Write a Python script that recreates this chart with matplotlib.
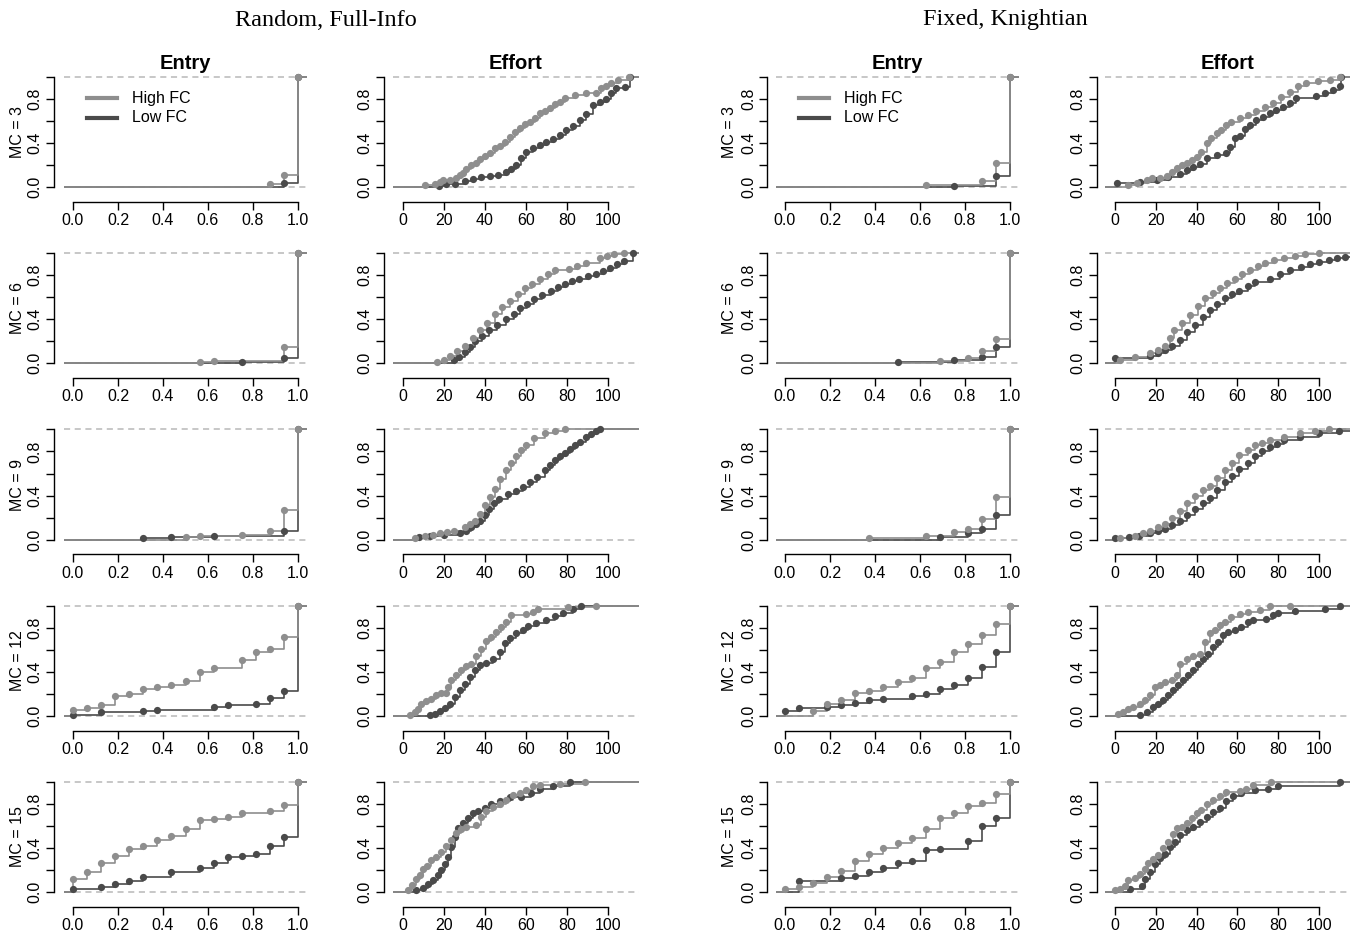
import numpy as np
import matplotlib.pyplot as plt

plt.rcParams['font.family'] = ['Liberation Sans', 'DejaVu Sans']

# ---------------- labels ----------------
mc_levels = [3, 6, 9, 12, 15]
group_titles = ['Random, Full-Info', 'Fixed, Knightian']
column_titles = ['Entry', 'Effort']
series_labels = ['High FC', 'Low FC']
entry_ticks = [0.0, 0.2, 0.4, 0.6, 0.8, 1.0]
effort_ticks = [0, 20, 40, 60, 80, 100]
y_ticks = [0.0, 0.2, 0.4, 0.6, 0.8, 1.0]
y_ticklabels = ['0.0', '', '0.4', '', '0.8', '']

# ---------------- data: ECDF knots (x, F) ----------------
# Random, Full-Info -- entry
rf_entry_3_high = [(0.875, 0.03), (0.9375, 0.11), (1.0, 1.0)]
rf_entry_3_low = [(0.9375, 0.04), (1.0, 1.0)]
rf_entry_6_high = [(0.5625, 0.01), (0.625, 0.02), (0.9375, 0.15), (1.0, 1.0)]
rf_entry_6_low = [(0.75, 0.01), (0.9375, 0.05), (1.0, 1.0)]
rf_entry_9_high = [(0.5, 0.02), (0.5625, 0.03), (0.75, 0.04), (0.875, 0.08),
                   (0.9375, 0.27), (1.0, 1.0)]
rf_entry_9_low = [(0.3125, 0.01), (0.4375, 0.02), (0.625, 0.03), (0.9375, 0.08), (1.0, 1.0)]
rf_entry_12_high = [(0.0, 0.05), (0.0625, 0.07), (0.125, 0.10), (0.1875, 0.18), (0.25, 0.20),
                    (0.3125, 0.24), (0.375, 0.26), (0.4375, 0.28), (0.5, 0.32), (0.5625, 0.40),
                    (0.625, 0.43), (0.75, 0.51), (0.8125, 0.58), (0.875, 0.61), (0.9375, 0.72),
                    (1.0, 1.0)]
rf_entry_12_low = [(0.0, 0.01), (0.125, 0.03), (0.3125, 0.04), (0.375, 0.055), (0.625, 0.08),
                   (0.6875, 0.095), (0.8125, 0.11), (0.875, 0.165), (0.9375, 0.225), (1.0, 1.0)]
rf_entry_15_high = [(0.0, 0.115), (0.0625, 0.18), (0.125, 0.265), (0.1875, 0.33), (0.25, 0.39),
                    (0.3125, 0.415), (0.375, 0.47), (0.4375, 0.51), (0.5, 0.57), (0.5625, 0.655),
                    (0.625, 0.665), (0.6875, 0.68), (0.75, 0.72), (0.875, 0.74), (0.9375, 0.795),
                    (1.0, 1.0)]
rf_entry_15_low = [(0.0, 0.03), (0.125, 0.045), (0.1875, 0.07), (0.25, 0.10), (0.3125, 0.135),
                   (0.4375, 0.18), (0.5625, 0.22), (0.625, 0.265), (0.6875, 0.32), (0.75, 0.33),
                   (0.8125, 0.35), (0.875, 0.42), (0.9375, 0.50), (1.0, 1.0)]

# Random, Full-Info -- effort
rf_effort_3_high = [(10.6, 0.015), (15.4, 0.03), (17.9, 0.045), (19.5, 0.06), (22.8, 0.067),
                    (26, 0.085), (27.6, 0.107), (29.3, 0.13), (30.9, 0.16), (33.3, 0.2),
                    (35.8, 0.22), (37.4, 0.25), (39.8, 0.28), (42.3, 0.305), (44.7, 0.35),
                    (47.2, 0.37), (49.6, 0.41), (52, 0.45), (54.5, 0.5), (56.9, 0.535),
                    (59.3, 0.57), (61.8, 0.595), (64.2, 0.625), (66.7, 0.67), (69.1, 0.695),
                    (71.5, 0.72), (74, 0.755), (76.4, 0.775), (78.9, 0.81), (83.7, 0.84),
                    (89.4, 0.85), (94.3, 0.855), (96.7, 0.9), (99.2, 0.92), (101.6, 0.945),
                    (104.9, 0.97), (110, 1.0)]
rf_effort_3_low = [(17.6, 0.006), (21.1, 0.024), (25.2, 0.03), (30.1, 0.052), (34.1, 0.073),
                   (38.2, 0.091), (42.3, 0.098), (46.3, 0.113), (50.4, 0.137), (52.8, 0.168),
                   (55.3, 0.2), (57.7, 0.26), (60.2, 0.32), (63.4, 0.35), (66.7, 0.38),
                   (69.9, 0.41), (73.2, 0.44), (76.4, 0.47), (79.7, 0.52), (82.9, 0.555),
                   (86.2, 0.61), (89.4, 0.665), (92.7, 0.745), (95.9, 0.775), (99.2, 0.8),
                   (101.6, 0.855), (104.1, 0.9), (108.1, 0.91), (110.5, 1.0)]
rf_effort_6_high = [(16.6, 0.01), (20, 0.03), (23, 0.07), (26.5, 0.11), (30, 0.16), (34, 0.23),
                    (37.6, 0.3), (41, 0.37), (45, 0.45), (48.5, 0.51), (52, 0.57), (56, 0.63),
                    (59.5, 0.68), (63, 0.72), (67, 0.77), (70.5, 0.81), (74, 0.845), (81, 0.86),
                    (85, 0.885), (89, 0.91), (96, 0.955), (99.5, 0.975), (103, 0.99), (108, 1.0)]
rf_effort_6_low = [(25, 0.03), (27.5, 0.06), (30, 0.1), (32.5, 0.15), (35, 0.2), (38.5, 0.25),
                   (42, 0.3), (46, 0.35), (50, 0.4), (54, 0.45), (57, 0.5), (60.5, 0.54),
                   (64, 0.58), (68, 0.62), (72, 0.66), (75.5, 0.69), (79, 0.72), (82.5, 0.745),
                   (86, 0.77), (90, 0.79), (94, 0.81), (97.5, 0.84), (101, 0.87), (104.5, 0.9),
                   (108, 0.93), (112, 1.0)]
rf_effort_9_high = [(6, 0.01), (10.7, 0.035), (14.5, 0.045), (18, 0.055), (21.5, 0.065), (25, 0.08),
                    (30, 0.11), (32.5, 0.14), (35, 0.17), (37.5, 0.23), (40, 0.31), (42.5, 0.39),
                    (45, 0.46), (47.5, 0.55), (50, 0.63), (52.5, 0.7), (55, 0.76), (57.5, 0.81),
                    (60, 0.855), (64, 0.92), (69, 0.965), (74, 0.99), (79, 1.0)]
rf_effort_9_low = [(8, 0.02), (13, 0.035), (20, 0.04), (28, 0.055), (30.5, 0.08), (33, 0.11),
                   (35.5, 0.14), (37.6, 0.17), (40, 0.22), (42, 0.28), (44.5, 0.33), (47, 0.37),
                   (51, 0.41), (55, 0.445), (58.5, 0.48), (62, 0.52), (65.5, 0.57), (69, 0.63),
                   (71.5, 0.68), (74, 0.72), (76.5, 0.76), (79, 0.79), (81.5, 0.82), (84, 0.855),
                   (86.5, 0.89), (89, 0.93), (91.5, 0.96), (94, 0.99), (96, 1.0)]
rf_effort_12_high = [(3.3, 0.003), (5.7, 0.033), (7.3, 0.064), (8.9, 0.103), (11.4, 0.134),
                     (13.8, 0.155), (16.3, 0.185), (18.7, 0.207), (20.8, 0.207), (22, 0.26),
                     (23.6, 0.322), (26, 0.368), (28.5, 0.42), (30.9, 0.45), (33.3, 0.474),
                     (35.8, 0.541), (38.2, 0.611), (40.7, 0.68), (43.1, 0.717), (45.5, 0.763),
                     (48, 0.809), (50.4, 0.854), (52.8, 0.915), (60.2, 0.924), (63.4, 0.945),
                     (65.9, 0.967), (80.5, 0.991), (94.3, 1.0)]
rf_effort_12_low = [(13, 0.003), (15.4, 0.018), (17.9, 0.043), (20.3, 0.073), (22.8, 0.109),
                    (25.2, 0.17), (27.6, 0.231), (30.1, 0.292), (32.5, 0.353), (35, 0.413),
                    (37.4, 0.459), (40.7, 0.48), (43.9, 0.52), (47.2, 0.58), (49.6, 0.657),
                    (52, 0.711), (55.3, 0.748), (58.5, 0.784), (61, 0.815), (65, 0.839),
                    (69.9, 0.869), (74, 0.906), (78, 0.936), (82.9, 0.967), (87, 1.0)]
rf_effort_15_high = [(2.4, 0.021), (4.6, 0.061), (6.5, 0.122), (8.1, 0.152), (9.8, 0.213),
                     (11.7, 0.235), (13.8, 0.29), (16.3, 0.32), (18.7, 0.366), (21.1, 0.418),
                     (23.6, 0.473), (26, 0.54), (28.5, 0.57), (30.9, 0.595), (35.8, 0.61),
                     (38.2, 0.686), (40.7, 0.732), (43.9, 0.777), (47.2, 0.802), (50.4, 0.838),
                     (53.7, 0.884), (56.9, 0.9), (60.2, 0.924), (63.4, 0.96), (66.7, 0.976),
                     (76.4, 0.985), (88.6, 1.0)]
rf_effort_15_low = [(6.5, 0.015), (9.8, 0.04), (12.2, 0.076), (14.6, 0.113), (17.1, 0.152),
                    (18.7, 0.198), (20.3, 0.259), (22, 0.32), (23.6, 0.412), (25.2, 0.503),
                    (26.8, 0.579), (29.3, 0.625), (31.7, 0.671), (34.1, 0.716), (36.6, 0.732),
                    (39.8, 0.762), (43.1, 0.802), (47.2, 0.823), (52, 0.863), (57.7, 0.865),
                    (62.6, 0.9), (66.7, 0.936), (73.2, 0.96), (81.3, 1.0)]

# Fixed, Knightian -- entry
fk_entry_3_high = [(0.625, 0.015), (0.875, 0.055), (0.9375, 0.22), (1.0, 1.0)]
fk_entry_3_low = [(0.75, 0.012), (0.9375, 0.10), (1.0, 1.0)]
fk_entry_6_high = [(0.6875, 0.02), (0.8125, 0.05), (0.875, 0.11), (0.9375, 0.22), (1.0, 1.0)]
fk_entry_6_low = [(0.5, 0.015), (0.75, 0.03), (0.875, 0.06), (0.9375, 0.15), (1.0, 1.0)]
fk_entry_9_high = [(0.375, 0.01), (0.625, 0.03), (0.75, 0.07), (0.8125, 0.10), (0.875, 0.19),
                   (0.9375, 0.39), (1.0, 1.0)]
fk_entry_9_low = [(0.6875, 0.02), (0.8125, 0.06), (0.875, 0.10), (0.9375, 0.22), (1.0, 1.0)]
fk_entry_12_high = [(0.125, 0.04), (0.1875, 0.11), (0.25, 0.14), (0.3125, 0.21), (0.375, 0.225),
                    (0.4375, 0.26), (0.5, 0.31), (0.5625, 0.345), (0.625, 0.43), (0.6875, 0.49),
                    (0.75, 0.58), (0.8125, 0.65), (0.875, 0.73), (0.9375, 0.83), (1.0, 1.0)]
fk_entry_12_low = [(0.0, 0.04), (0.0625, 0.07), (0.1875, 0.08), (0.25, 0.10), (0.3125, 0.12),
                   (0.375, 0.14), (0.4375, 0.155), (0.5625, 0.18), (0.625, 0.20), (0.6875, 0.24),
                   (0.75, 0.28), (0.8125, 0.34), (0.875, 0.44), (0.9375, 0.58), (1.0, 1.0)]
fk_entry_15_high = [(0.0, 0.03), (0.0625, 0.05), (0.125, 0.08), (0.1875, 0.14), (0.25, 0.19),
                    (0.3125, 0.285), (0.375, 0.345), (0.4375, 0.40), (0.5, 0.45), (0.5625, 0.49),
                    (0.625, 0.57), (0.6875, 0.67), (0.75, 0.72), (0.8125, 0.78), (0.875, 0.81),
                    (0.9375, 0.89), (1.0, 1.0)]
fk_entry_15_low = [(0.0625, 0.10), (0.25, 0.13), (0.3125, 0.15), (0.375, 0.18), (0.4375, 0.22),
                   (0.5, 0.265), (0.5625, 0.285), (0.625, 0.38), (0.6875, 0.39), (0.8125, 0.46),
                   (0.875, 0.60), (0.9375, 0.67), (1.0, 1.0)]

# Fixed, Knightian -- effort
fk_effort_3_high = [(6.5, 0.015), (10.6, 0.037), (15.5, 0.06), (17.9, 0.082), (22, 0.085),
                    (25.3, 0.098), (27.7, 0.137), (30.2, 0.174), (32.6, 0.198), (35.1, 0.22),
                    (37.5, 0.244), (40, 0.274), (42.4, 0.32), (44.9, 0.396), (47.3, 0.442),
                    (49.8, 0.488), (52.2, 0.518), (54.6, 0.564), (57.1, 0.595), (61.2, 0.625),
                    (65.3, 0.655), (69.3, 0.695), (73.4, 0.73), (77.5, 0.768), (81.6, 0.817),
                    (85.6, 0.86), (89.7, 0.92), (93.8, 0.945), (99.5, 0.96), (105.2, 0.976),
                    (110.1, 1.0)]
fk_effort_3_low = [(1.1, 0.04), (12.2, 0.046), (20.4, 0.067), (26.1, 0.091), (31.8, 0.122),
                   (35.1, 0.152), (38.3, 0.183), (41.6, 0.213), (44.9, 0.26), (49.8, 0.29),
                   (54.6, 0.31), (56.3, 0.366), (58.7, 0.442), (61.2, 0.463), (63.6, 0.524),
                   (66.1, 0.564), (69.3, 0.61), (72.6, 0.64), (75.9, 0.67), (79.1, 0.7),
                   (82.4, 0.73), (85.6, 0.762), (88.9, 0.808), (98.7, 0.823), (102.8, 0.854),
                   (106.9, 0.884), (110.1, 0.915), (110.9, 1.0)]
fk_effort_6_high = [(2.5, 0.03), (10, 0.055), (17, 0.09), (21, 0.12), (24.5, 0.16), (27, 0.23),
                    (29, 0.3), (33, 0.37), (37, 0.44), (40.5, 0.52), (44, 0.59), (48, 0.64),
                    (51.5, 0.68), (55, 0.73), (59, 0.77), (62.5, 0.81), (66, 0.845), (70, 0.88),
                    (73.5, 0.91), (78, 0.935), (83, 0.955), (88, 0.975), (93, 0.99), (100, 1.0)]
fk_effort_6_low = [(0, 0.045), (17, 0.07), (21, 0.09), (24.5, 0.12), (28, 0.16), (32, 0.21),
                   (35.5, 0.28), (39, 0.35), (43, 0.42), (46.5, 0.48), (50, 0.54), (54, 0.59),
                   (57.5, 0.63), (61, 0.66), (65, 0.7), (68.6, 0.74), (76, 0.77), (81, 0.81),
                   (86, 0.845), (91, 0.875), (95.6, 0.9), (100, 0.92), (105, 0.935),
                   (109, 0.955), (112.7, 0.97)]
fk_effort_9_high = [(2.5, 0.01), (10, 0.035), (13.5, 0.055), (17, 0.08), (21, 0.11), (24.5, 0.145),
                    (28, 0.2), (32, 0.26), (35.5, 0.33), (39, 0.4), (43, 0.45), (46.5, 0.49),
                    (50, 0.56), (54, 0.63), (57.5, 0.7), (61, 0.765), (65, 0.81), (68.6, 0.855),
                    (72, 0.88), (76, 0.9), (83, 0.935), (90.7, 0.97), (98, 0.99), (105, 1.0)]
fk_effort_9_low = [(0, 0.01), (7, 0.02), (12, 0.035), (17, 0.055), (21, 0.075), (24.5, 0.1),
                   (28, 0.135), (32, 0.17), (35.5, 0.22), (39, 0.28), (43, 0.33), (46.5, 0.38),
                   (50, 0.45), (54, 0.52), (57.5, 0.58), (61, 0.645), (65, 0.7), (68.6, 0.76),
                   (72, 0.8), (76, 0.84), (79.5, 0.87), (83, 0.9), (90.7, 0.935), (100, 0.97),
                   (110, 0.99)]
fk_effort_12_high = [(1.6, 0.018), (4.1, 0.033), (6.5, 0.064), (9, 0.079), (12.2, 0.109),
                     (14.7, 0.146), (17.1, 0.185), (19.6, 0.261), (22, 0.277), (24.5, 0.307),
                     (27.7, 0.322), (30.2, 0.368), (31.8, 0.474), (35.1, 0.52), (38.3, 0.541),
                     (41.6, 0.565), (44, 0.672), (46.5, 0.748), (48.9, 0.784), (51.4, 0.824),
                     (53.8, 0.854), (57.1, 0.9), (61.2, 0.924), (65.3, 0.945), (71, 0.96),
                     (75.9, 0.997), (85.6, 1.0)]
fk_effort_12_low = [(12.2, 0.003), (15.5, 0.033), (18.8, 0.079), (21.2, 0.109), (23.7, 0.14),
                    (26.1, 0.185), (28.5, 0.231), (31, 0.277), (33.4, 0.322), (35.9, 0.368),
                    (38.3, 0.413), (40.8, 0.474), (43.2, 0.52), (45.7, 0.565), (48.1, 0.626),
                    (50.6, 0.672), (53, 0.733), (55.5, 0.763), (58.7, 0.784), (62, 0.809),
                    (65.3, 0.854), (67.7, 0.875), (74.2, 0.884), (77.5, 0.915), (79.9, 0.936),
                    (88.1, 0.954), (102.8, 0.967), (110.1, 1.0)]
fk_effort_15_high = [(0, 0.015), (2.4, 0.03), (4.9, 0.052), (6.5, 0.113), (9.8, 0.131),
                     (12.2, 0.168), (14.7, 0.213), (16.3, 0.265), (18.8, 0.296), (21.2, 0.335),
                     (23.7, 0.396), (26.1, 0.457), (28.5, 0.527), (30.2, 0.579), (32.6, 0.595),
                     (35.1, 0.631), (37.5, 0.671), (40, 0.716), (42.4, 0.747), (44.9, 0.802),
                     (48.1, 0.832), (51.4, 0.869), (54.6, 0.905), (61.2, 0.915), (64.4, 0.936),
                     (67.7, 0.976), (76.7, 1.0)]
fk_effort_15_low = [(7.3, 0.03), (13, 0.052), (14.7, 0.122), (17.1, 0.183), (19.6, 0.253),
                    (22, 0.305), (24.5, 0.345), (26.9, 0.405), (29.4, 0.457), (31.8, 0.518),
                    (35.1, 0.564), (38.3, 0.595), (41.6, 0.64), (44.9, 0.686), (48.1, 0.723),
                    (51.4, 0.762), (54.6, 0.823), (57.9, 0.875), (62, 0.9), (68.5, 0.93),
                    (75, 0.936), (79.9, 0.96), (110.1, 1.0)]

# table of panels: rows = MC level, columns = (group, measure)
panel_data = [
    [(rf_entry_3_high, rf_entry_3_low), (rf_effort_3_high, rf_effort_3_low),
     (fk_entry_3_high, fk_entry_3_low), (fk_effort_3_high, fk_effort_3_low)],
    [(rf_entry_6_high, rf_entry_6_low), (rf_effort_6_high, rf_effort_6_low),
     (fk_entry_6_high, fk_entry_6_low), (fk_effort_6_high, fk_effort_6_low)],
    [(rf_entry_9_high, rf_entry_9_low), (rf_effort_9_high, rf_effort_9_low),
     (fk_entry_9_high, fk_entry_9_low), (fk_effort_9_high, fk_effort_9_low)],
    [(rf_entry_12_high, rf_entry_12_low), (rf_effort_12_high, rf_effort_12_low),
     (fk_entry_12_high, fk_entry_12_low), (fk_effort_12_high, fk_effort_12_low)],
    [(rf_entry_15_high, rf_entry_15_low), (rf_effort_15_high, rf_effort_15_low),
     (fk_entry_15_high, fk_entry_15_low), (fk_effort_15_high, fk_effort_15_low)],
]

# ---------------- styles ----------------
HIGH_COL = '#8e8e8e'
LOW_COL = '#4a4a4a'
DASH_COL = '#b8b8b8'
FS = 11.5

W, H = 1350, 938
PX = 72.0 / 100.0   # points per pixel

# column geometry in pixels: (left, right, xlim, ticks, spine offset)
columns = [
    (64.0, 307.0, (-0.04, 1.04), entry_ticks, 10.5),
    (392.8, 638.8, (-5, 115), effort_ticks, 9.0),
    (776.0, 1019.0, (-0.04, 1.04), entry_ticks, 9.0),
    (1104.8, 1349.6, (-5, 115), effort_ticks, 8.0),
]
ylim = (-0.04, 1.04)


def draw_ecdf(ax, knots, color, xlim):
    x = np.array([k[0] for k in knots])
    f = np.array([k[1] for k in knots])
    xs = np.concatenate([[xlim[0]], x, [xlim[1]]])
    fs = np.concatenate([[0.0], f, [f[-1]]])
    ax.step(xs, fs, where='post', color=color, lw=1.2, zorder=3)
    ax.plot(x, f, 'o', color=color, ms=5.2, mec='none', zorder=4)


fig = plt.figure(figsize=(W / 100, H / 100), dpi=100)

for r, mc in enumerate(mc_levels):
    y1 = 77 + 176.25 * r
    top = y1 - 4.4
    height = 118.8
    for c, (left, right, xlim, xticks, off) in enumerate(columns):
        ax = fig.add_axes([left / W, 1 - (top + height) / H, (right - left) / W, height / H])
        ax.set_xlim(*xlim)
        ax.set_ylim(*ylim)
        ax.axhline(0, ls=(0, (4, 3)), color=DASH_COL, lw=1.1, zorder=1)
        ax.axhline(1, ls=(0, (4, 3)), color=DASH_COL, lw=1.1, zorder=1)

        high, low = panel_data[r][c]
        draw_ecdf(ax, low, LOW_COL, xlim)
        draw_ecdf(ax, high, HIGH_COL, xlim)

        for s in ['top', 'right']:
            ax.spines[s].set_visible(False)
        ax.spines['left'].set_position(('outward', off * PX))
        ax.spines['bottom'].set_position(('outward', 10.5 * PX))
        ax.spines['left'].set_bounds(0, 1)
        ax.spines['bottom'].set_bounds(xticks[0], xticks[-1])
        for s in ['left', 'bottom']:
            ax.spines[s].set_linewidth(1.0)
        ax.set_xticks(xticks)
        if c % 2 == 0:
            ax.set_xticklabels(['%.1f' % t for t in xticks])
        else:
            ax.set_xticklabels([str(t) for t in xticks])
        ax.set_yticks(y_ticks)
        ax.set_yticklabels(y_ticklabels, rotation=90, va='center')
        ax.tick_params(length=6, width=1.0, labelsize=FS, pad=2)

        if c % 2 == 0:
            ax.set_ylabel('MC = %d' % mc, fontsize=FS)
            ax.yaxis.label.set_va('center')
            ax.yaxis.set_label_coords(-0.193, 0.5)
        if r == 0:
            ax.set_title(column_titles[c % 2], fontsize=14.5, fontweight='bold', pad=1.5)
            if c % 2 == 0:
                for i, (lab, col) in enumerate(zip(series_labels, [HIGH_COL, LOW_COL])):
                    yy = 0.786 - 0.168 * i
                    ax.plot([0.093, 0.218], [yy, yy], color=col, lw=3,
                            transform=ax.transAxes, clip_on=False)
                    ax.text(0.278, yy, lab, transform=ax.transAxes, fontsize=FS,
                            va='center', ha='left')

fig.text(326 / W, 1 - 20 / H, group_titles[0], family=['Liberation Serif', 'DejaVu Serif'],
         fontsize=17.5, ha='center', va='center')
fig.text(1005 / W, 1 - 20 / H, group_titles[1], family=['Liberation Serif', 'DejaVu Serif'],
         fontsize=17.5, ha='center', va='center')

fig.savefig('out.png', dpi=100)
